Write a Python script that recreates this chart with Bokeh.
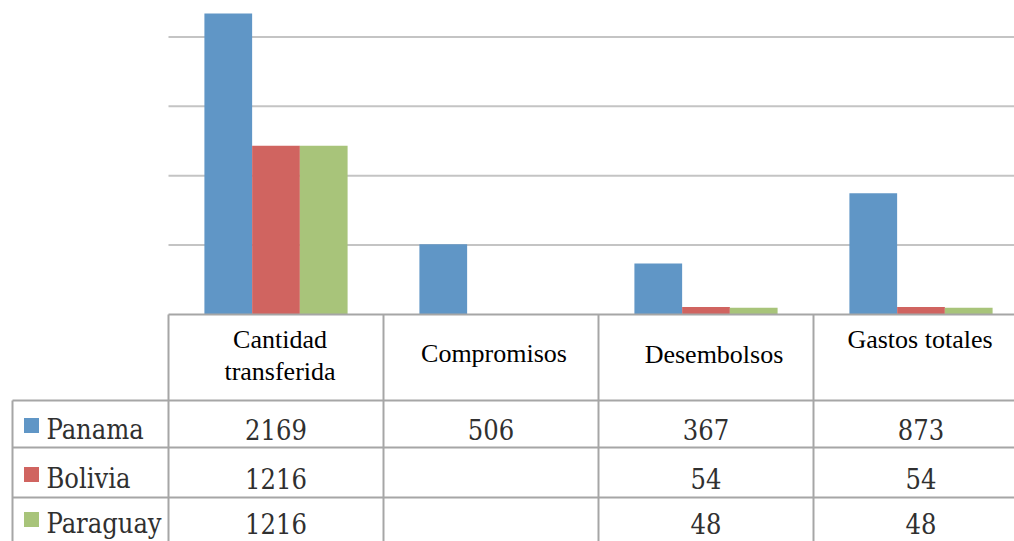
from bokeh.plotting import figure
from bokeh.models import Range1d
from bokeh.core.properties import value
from bokeh.embed import file_html
from bokeh.resources import INLINE

# ---------------- data ----------------
header_lines = [["Cantidad", "transferida"], ["Compromisos"], ["Desembolsos"], ["Gastos totales"]]
series = ["Panama", "Bolivia", "Paraguay"]
panama = [2169, 506, 367, 873]
bolivia = [1216, None, 54, 54]
paraguay = [1216, None, 48, 48]
colors = ["#6096C6", "#D06460", "#A8C47A"]
grid_values = [500, 1000, 1500, 2000]

# ---------------- layout (pixels of the picture) ----------------
W, H = 1014, 541
ORIGIN = 0
CAT_PX = 215.0             # width of one category column
PLOT_LEFT = 168            # left edge of plot/table value columns
BASE_Y = 314               # baseline of bars / top of table
PX_PER_UNIT = 0.1388
n_cat = len(header_lines)

def ux(px):                # picture x pixel -> category units
    return (px - PLOT_LEFT) / CAT_PX

x_lo = ux(ORIGIN)
x_hi = ux(ORIGIN + W)
y_hi = (BASE_Y - ORIGIN) / PX_PER_UNIT
y_lo = -(ORIGIN + H - BASE_Y) / PX_PER_UNIT

p = figure(width=W, height=H, x_range=Range1d(x_lo, x_hi), y_range=Range1d(y_lo, y_hi),
           output_backend="svg", toolbar_location=None, min_border=0,
           x_axis_location=None, y_axis_location=None)
p.grid.visible = False
p.outline_line_color = None
p.background_fill_color = "white"
p.extra_y_ranges = {"tbl": Range1d(start=ORIGIN + H, end=ORIGIN)}

# gridlines
p.segment(x0=[0] * len(grid_values), x1=[x_hi] * len(grid_values), y0=grid_values, y1=grid_values,
          line_color="#C4C4C4", line_width=2)

# bars
bw = 0.222
all_series = [panama, bolivia, paraguay]
for k, (vals, col) in enumerate(zip(all_series, colors)):
    xs, tops = [], []
    for i, v in enumerate(vals):
        if v is None:
            continue
        xs.append(i + 0.5 + (k - 1) * bw)
        tops.append(v)
    p.vbar(x=xs, top=tops, bottom=0, width=bw, fill_color=col, line_color=None)

# ---------------- data table ----------------
line_col = "#A6A6A6"
row_tops = [400, 447, 497]
row_bottom_extra = ORIGIN + H + 5
table_left = ux(12)
p.segment(x0=[0], x1=[x_hi], y0=[BASE_Y], y1=[BASE_Y], y_range_name="tbl",
          line_color=line_col, line_width=2)
p.segment(x0=[table_left] * 3, x1=[x_hi] * 3, y0=row_tops, y1=row_tops, y_range_name="tbl",
          line_color=line_col, line_width=2)
p.segment(x0=list(range(n_cat)), x1=list(range(n_cat)), y0=[BASE_Y] * n_cat,
          y1=[row_bottom_extra] * n_cat, y_range_name="tbl", line_color=line_col, line_width=2)
p.segment(x0=[table_left], x1=[table_left], y0=[row_tops[0]], y1=[row_bottom_extra],
          y_range_name="tbl", line_color=line_col, line_width=2)

# headers (y = visual middle of the text line)
HF = 26
header_baselines = [[348, 380], [362], [363], [348]]
header_dx = [4, 3, 8, -1]
hx, hy, ht = [], [], []
for i, lines in enumerate(header_lines):
    for t, b in zip(lines, header_baselines[i]):
        hx.append(i + 0.5 + header_dx[i] / CAT_PX)
        hy.append(b - 0.34 * HF)
        ht.append(t)
p.text(x=hx, y=hy, text=ht, y_range_name="tbl", text_align="center", text_baseline="middle",
       text_font=value("Liberation Serif"), text_font_size=f"{HF}px", text_color="black")

# values and row labels
VF = 27
row_baselines = [438, 487, 532]
vx, vy, vt = [], [], []
for r, vals in enumerate(all_series):
    for i, v in enumerate(vals):
        if v is None:
            continue
        vx.append(i + 0.5)
        vy.append(row_baselines[r] - 0.35 * VF)
        vt.append(str(v))
p.text(x=vx, y=vy, text=vt, y_range_name="tbl", text_align="center", text_baseline="middle",
       text_font=value("DejaVu Serif Condensed"), text_font_size=f"{VF}px", text_color="#303030")

p.text(x=[ux(46)] * 3, y=[b - 0.35 * VF for b in row_baselines], text=series, y_range_name="tbl",
       text_align="left", text_baseline="middle", text_font=value("DejaVu Serif Condensed"),
       text_font_size=f"{VF}px", text_color="#303030")

# legend keys
p.rect(x=[ux(31)] * 3, y=[b - 13 for b in row_baselines], width=15, height=15,
       width_units="screen", height_units="screen", y_range_name="tbl",
       fill_color=colors, line_color=None)

open("out.html", "w").write(file_html(p, INLINE))
